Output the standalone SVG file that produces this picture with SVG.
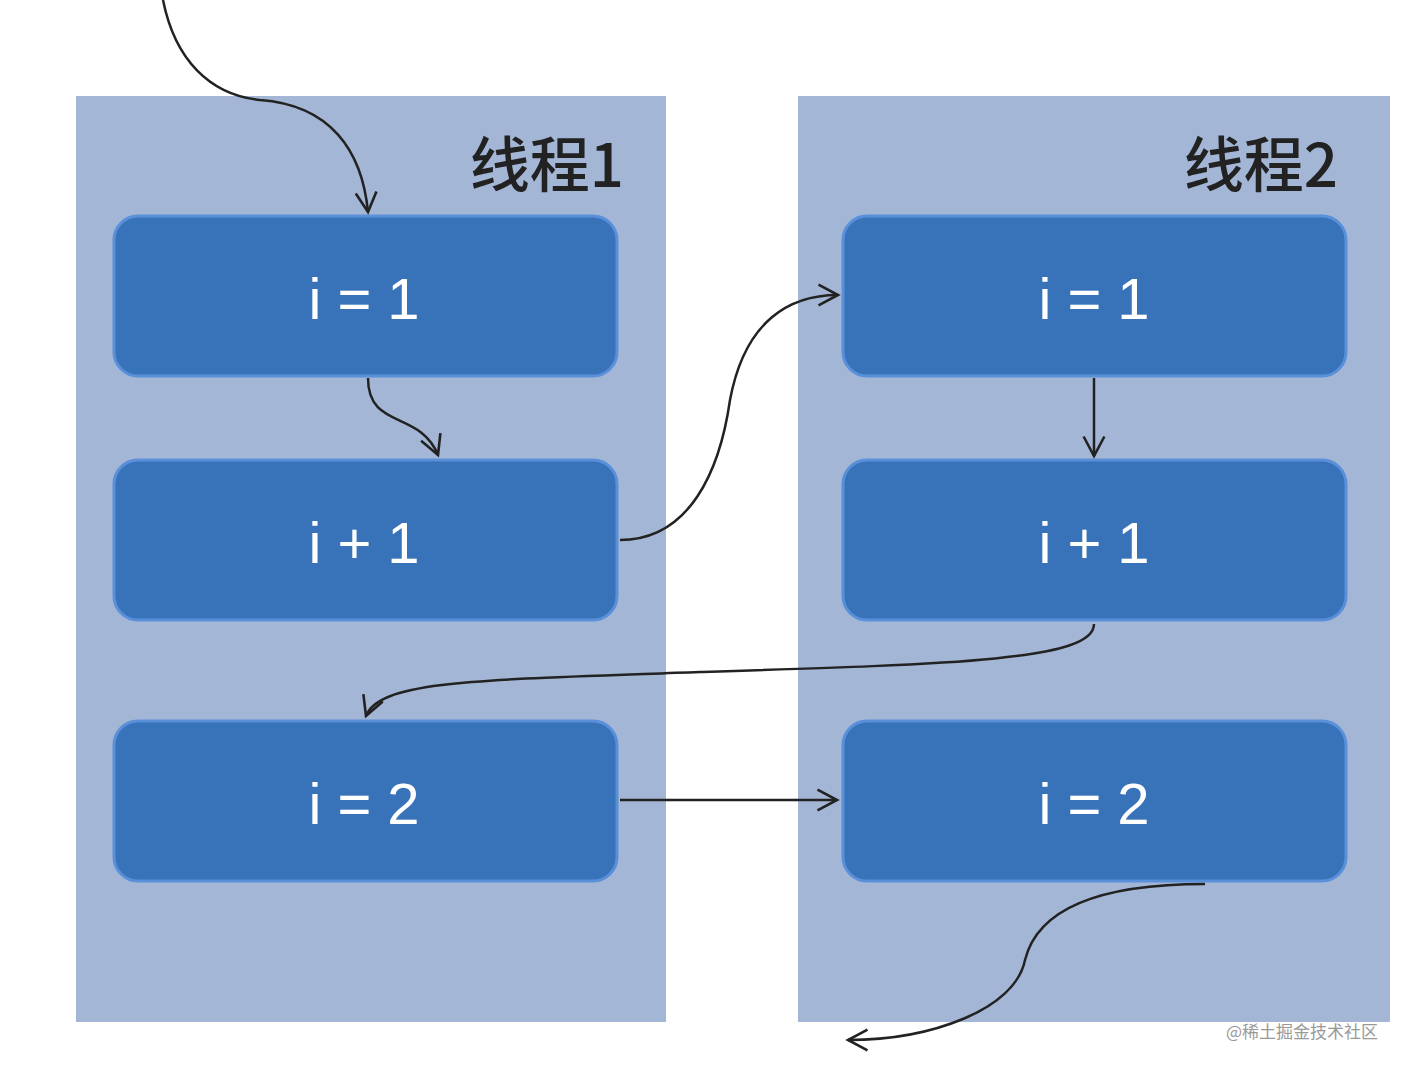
<svg xmlns="http://www.w3.org/2000/svg" width="1406" height="1069" viewBox="0 0 1406 1069">
<defs>
<style>
.panel{fill:#a4b6d5}
.node rect{fill:#3872b9;stroke:#5a90da;stroke-width:3}
.node text{fill:#fff;font-family:"Liberation Sans",Arial,sans-serif;font-size:58px;text-anchor:middle}
.title{fill:#222;font-family:"Noto Sans CJK SC","Liberation Sans",sans-serif;font-size:60px;font-weight:500;text-anchor:end}
.c path{fill:none;stroke:#222;stroke-width:2.5;marker-end:url(#a)}
</style>
<marker id="a" viewBox="0 0 20 20" refX="18" refY="10" markerWidth="26" markerHeight="26" markerUnits="userSpaceOnUse" orient="auto"><path d="M3,2 L18,10 L3,18" fill="none" stroke="#222" stroke-width="2"/></marker>
</defs>
<rect width="1406" height="1069" fill="#fff"/>
<g id="thread1"><rect class="panel" x="76" y="96" width="590" height="926"/><text class="title" x="624" y="187">线程1</text></g>
<g id="thread2"><rect class="panel" x="798" y="96" width="592" height="926"/><text class="title" x="1338" y="187">线程2</text></g>
<g id="t1n1" class="node"><rect x="114" y="216" width="503" height="160" rx="24"/><text x="364" y="319">i = 1</text></g>
<g id="t1n2" class="node"><rect x="114" y="460" width="503" height="160" rx="24"/><text x="364" y="563">i + 1</text></g>
<g id="t1n3" class="node"><rect x="114" y="721" width="503" height="160" rx="24"/><text x="364" y="824">i = 2</text></g>
<g id="t2n1" class="node"><rect x="843" y="216" width="503" height="160" rx="24"/><text x="1094" y="319">i = 1</text></g>
<g id="t2n2" class="node"><rect x="843" y="460" width="503" height="160" rx="24"/><text x="1094" y="563">i + 1</text></g>
<g id="t2n3" class="node"><rect x="843" y="721" width="503" height="160" rx="24"/><text x="1094" y="824">i = 2</text></g>
<g class="c" id="connectors">
<path d="M163,0 C175,60 210,95 260,100 C330,105 362,150 368,212"/>
<path d="M368,378 C368,430 420,410 438,455"/>
<path d="M620,540 C690,540 720,470 730,400 C745,320 790,295 838,295"/>
<path d="M1094,378 L1094,456"/>
<path d="M1094,624 C1094,660 960,664 700,672 C480,680 380,680 366,716"/>
<path d="M620,800 L837,800"/>
<path d="M1205,884 C1120,884 1040,900 1025,960 C1015,1010 930,1040 848,1040"/>
</g>
<text x="1378" y="1038" fill="#999" font-family="Noto Sans CJK SC,sans-serif" font-size="17" text-anchor="end">@稀土掘金技术社区</text>
</svg>
